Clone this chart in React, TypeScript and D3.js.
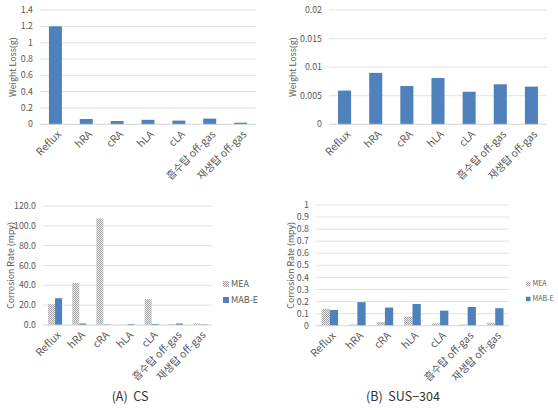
import React from "react";
import * as d3 from "d3";

const categories = ["Reflux", "hRA", "cRA", "hLA", "cLA", "흡수탑 off-gas", "재생탑 off-gas"];
const csWeightLoss = [1.2, 0.065, 0.04, 0.055, 0.045, 0.07, 0.02];
const susWeightLoss = [0.0059, 0.009, 0.0067, 0.0081, 0.0057, 0.007, 0.0066];
const csMEA = [21, 42.5, 107.5, 0, 26, 1.0, 1.5];
const csMABE = [27, 1.5, 0.5, 1.0, 1.0, 1.5, 0.5];
const susMEA = [0.14, 0.01, 0.03, 0.075, 0.02, 0.01, 0.025];
const susMABE = [0.13, 0.195, 0.15, 0.18, 0.125, 0.155, 0.145];
const seriesNames = ["MEA", "MAB-E"];
const csWLTicks = [0, 0.2, 0.4, 0.6, 0.8, 1, 1.2, 1.4];
const susWLTicks = [0, 0.005, 0.01, 0.015, 0.02];
const csCRTicks = [0, 20, 40, 60, 80, 100, 120];
const susCRTicks = [0, 0.1, 0.2, 0.3, 0.4, 0.5, 0.6, 0.7, 0.8, 0.9, 1];
const panelTitles = ["(A)\u00a0\u00a0CS", "(B)\u00a0\u00a0SUS−304"];

const BLUE = "#4f81bd";
const GRID = "#d9d9d9";
const TXT = "#595959";
const FONT = "'Noto Sans CJK KR', 'Noto Sans', sans-serif";

type ChartProps = {
  x0: number; x1: number; y0: number; y1: number;
  max: number; ticks: number[]; fmt: (v: number) => string;
  series: number[][]; fills: string[]; groupFrac: number;
  title: string; titleX: number;
  legend?: { x: number; y: number; size: number; gap: number; font: number };
};

function Chart(p: ChartProps) {
  const x = d3.scaleBand<string>().domain(categories).range([p.x0, p.x1]);
  const y = d3.scaleLinear().domain([0, p.max]).range([p.y1, p.y0]);
  const bw = x.bandwidth();
  const groupW = bw * p.groupFrac;
  const inner = d3.scaleBand<number>().domain(p.series.map((_, i) => i)).range([0, groupW]);
  const cy = (p.y0 + p.y1) / 2;
  return (
    <g>
      {p.ticks.map((t) => (
        <g key={t}>
          <line x1={p.x0} x2={p.x1} y1={y(t)} y2={y(t)} stroke={GRID} strokeWidth={0.8} />
          <text x={p.x0 - 7} y={y(t)} dy="0.35em" textAnchor="end" fontSize={8.8} fill={TXT}>{p.fmt(t)}</text>
        </g>
      ))}
      {p.series.map((s, si) =>
        s.map((v, ci) => {
          const bx = (x(categories[ci]) as number) + (bw - groupW) / 2 + (inner(si) as number);
          return (
            <rect key={si + "-" + ci} x={bx} width={inner.bandwidth()} y={y(v)} height={p.y1 - y(v)} fill={p.fills[si]} />
          );
        })
      )}
      <line x1={p.x0} x2={p.x1} y1={p.y1} y2={p.y1} stroke={GRID} strokeWidth={0.8} />
      {categories.map((c) => {
        const cx = (x(c) as number) + bw / 2;
        return (
          <text key={c} transform={`translate(${cx + 4},${p.y1 + 8}) rotate(-45)`} textAnchor="end" dy="0.35em" fontSize={10.5} fill={TXT}>{c}</text>
        );
      })}
      <text transform={`translate(${p.titleX},${cy}) rotate(-90)`} textAnchor="middle" dy="0.35em" fontSize={8.8} fill={TXT}>{p.title}</text>
      {p.legend && seriesNames.map((n, i) => (
        <g key={n}>
          <rect x={p.legend!.x} y={p.legend!.y + i * p.legend!.gap - p.legend!.size / 2} width={p.legend!.size} height={p.legend!.size} fill={p.fills[i]} />
          <text x={p.legend!.x + p.legend!.size + 2} y={p.legend!.y + i * p.legend!.gap} dy="0.35em" fontSize={p.legend!.font} fill={TXT}>{n}</text>
        </g>
      ))}
    </g>
  );
}

const gen = (v: number) => String(+v.toFixed(4));
const f1 = d3.format(".1f");

export default function App() {
  return (
    <svg width={558} height={410} style={{ position: "absolute", left: 0, top: 0, background: "#fff" }} fontFamily={FONT}>
      <defs>
        <pattern id="chk" width={2} height={2} patternUnits="userSpaceOnUse">
          <rect width={2} height={2} fill="#efefef" />
          <rect width={1} height={1} fill="#a0a0a0" />
          <rect x={1} y={1} width={1} height={1} fill="#a0a0a0" />
        </pattern>
      </defs>
      <rect width={558} height={410} fill="#fff" />
      <Chart x0={40} x1={256} y0={10} y1={124.3} max={1.4} ticks={csWLTicks} fmt={gen}
        series={[csWeightLoss]} fills={[BLUE]} groupFrac={0.42} title="Weight Loss(g)" titleX={13} />
      <Chart x0={329} x1={547} y0={10} y1={124.3} max={0.02} ticks={susWLTicks} fmt={gen}
        series={[susWeightLoss]} fills={[BLUE]} groupFrac={0.42} title="Weight Loss(g)" titleX={293} />
      <Chart x0={43} x1={212} y0={206} y1={325} max={120} ticks={csCRTicks} fmt={f1}
        series={[csMEA, csMABE]} fills={["url(#chk)", BLUE]} groupFrac={0.58} title="Corrosion Rate (mpy)" titleX={11}
        legend={{ x: 223, y: 284, size: 6, gap: 16, font: 9 }} />
      <Chart x0={316} x1={509} y0={205} y1={325.7} max={1} ticks={susCRTicks} fmt={gen}
        series={[susMEA, susMABE]} fills={["url(#chk)", BLUE]} groupFrac={0.6} title="Corrosion Rate (mpy)" titleX={291}
        legend={{ x: 526, y: 284, size: 4.5, gap: 15, font: 7 }} />
      <text x={130} y={397} dy="0.35em" textAnchor="middle" fontSize={12.5} fill="#333">{panelTitles[0]}</text>
      <text x={403} y={397} dy="0.35em" textAnchor="middle" fontSize={12.5} fill="#333">{panelTitles[1]}</text>
    </svg>
  );
}
